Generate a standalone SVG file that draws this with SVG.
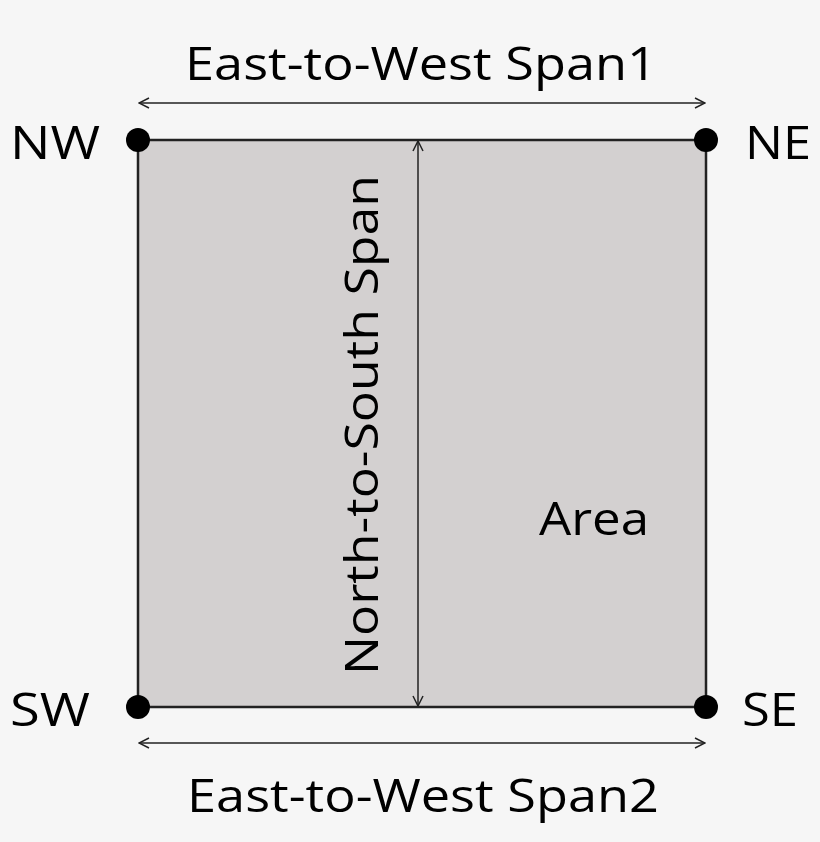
<svg xmlns="http://www.w3.org/2000/svg" width="820" height="842" viewBox="0 0 820 842">
<defs>
<marker id="a" viewBox="0 0 12 12" refX="11" refY="6" markerWidth="12" markerHeight="12" markerUnits="userSpaceOnUse" orient="auto-start-reverse"><path d="M1,1 L11,6 L1,11" fill="none" stroke="#222" stroke-width="1.5"/></marker>
</defs>
<style>
text{font-family:"Open Sans","Liberation Sans",sans-serif;fill:#000;font-size:46px}
.c{stroke:#222;stroke-width:1.5;fill:none}
</style>
<rect width="820" height="842" fill="#f6f6f6"/>
<g id="area"><rect x="138" y="140" width="568" height="567" fill="#d3d0d0" stroke="#222" stroke-width="2.5"/>
<text x="594" y="535" text-anchor="middle" textLength="110" lengthAdjust="spacingAndGlyphs">Area</text></g>
<g id="connectors">
<line class="c" x1="139" y1="103" x2="705" y2="103" marker-start="url(#a)" marker-end="url(#a)"/>
<line class="c" x1="139" y1="743" x2="705" y2="743" marker-start="url(#a)" marker-end="url(#a)"/>
<line class="c" x1="418" y1="141" x2="418" y2="706" marker-start="url(#a)" marker-end="url(#a)"/>
</g>
<g id="NW"><circle cx="138" cy="140" r="12"/><text x="55" y="159" text-anchor="middle" textLength="90" lengthAdjust="spacingAndGlyphs">NW</text></g>
<g id="NE"><circle cx="706" cy="140" r="12"/><text x="778" y="159" text-anchor="middle" textLength="66" lengthAdjust="spacingAndGlyphs">NE</text></g>
<g id="SW"><circle cx="138" cy="707" r="12"/><text x="50" y="726" text-anchor="middle" textLength="80" lengthAdjust="spacingAndGlyphs">SW</text></g>
<g id="SE"><circle cx="706" cy="707" r="12"/><text x="770" y="726" text-anchor="middle" textLength="56" lengthAdjust="spacingAndGlyphs">SE</text></g>
<g id="top"><text x="421" y="80" text-anchor="middle" textLength="472" lengthAdjust="spacingAndGlyphs">East-to-West Span1</text></g>
<g id="bottom"><text x="423" y="812" text-anchor="middle" textLength="472" lengthAdjust="spacingAndGlyphs">East-to-West Span2</text></g>
<g id="ns"><text transform="translate(378,425) rotate(-90)" text-anchor="middle" textLength="500" lengthAdjust="spacingAndGlyphs">North-to-South Span</text></g>
</svg>
